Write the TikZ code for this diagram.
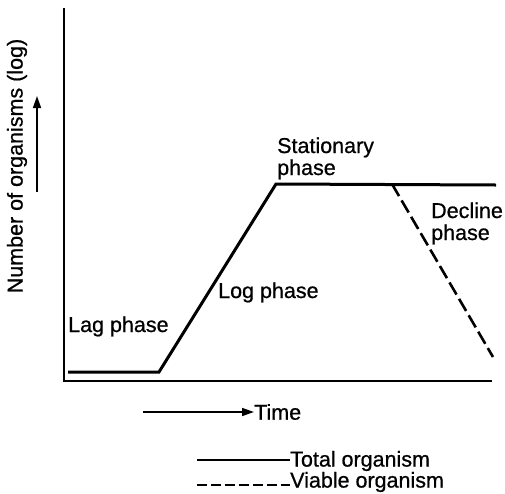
\documentclass[tikz,border=0pt]{standalone}
\usepackage{fontspec}
\setmainfont{Liberation Sans}[RawFeature={embolden=0.7}]
\usetikzlibrary{arrows.meta}
\begin{document}
\begin{tikzpicture}[x=1pt,y=-1pt,
  txt/.style={font=\fontsize{21.5}{22}\selectfont, inner sep=0pt},
  lbl/.style={txt, anchor=base west, align=left},
  axisline/.style={line width=2pt},
  curve/.style={line width=3pt, line join=miter},
  viable/.style={line width=2.6pt, dash pattern=on 14pt off 5pt},
  pointer/.style={line width=1.6pt, -{Triangle[length=12pt,width=8pt]}}]
\useasboundingbox (0,0) rectangle (505,493);
% axes
\coordinate (top) at (64,8);
\coordinate (orig) at (64,381);
\coordinate (xend) at (492,381);
\draw[axisline] (top) -- (orig) -- (xend);
% growth curve
\coordinate (lag0) at (68,372);
\coordinate (lag1) at (159,372);
\coordinate (stat0) at (276,184);
\coordinate (dec0) at (392,184);
\coordinate (stat1) at (496,185);
\coordinate (dec1) at (493,357);
\draw[curve] (lag0) -- (lag1) -- (stat0) -- (stat1);
\draw[viable] (dec0) -- (dec1);
% labels (base anchor = baseline of last line)
\node[lbl] (stat) at (277,175) {Stationary\\phase};
\node[lbl] (decl) at (431,240) {Decline\\phase};
\node[lbl] (logp) at (218,298) {Log phase};
\node[lbl] (lagp) at (68,332) {Lag phase};
% y label
\node[txt, rotate=90] (ylab) at (17,166) {Number of organisms (log)};
\coordinate (ya0) at (37,192);
\coordinate (ya1) at (37,96);
\draw[pointer] (ya0) -- (ya1);
% time
\coordinate (ta0) at (143,412);
\node[lbl, anchor=west] (time) at (254,412) {Time};
\draw[pointer] (ta0) -- (time.west);
% legend
\coordinate (l1a) at (197,460);
\node[lbl, anchor=west] (tot) at (290,461) {Total organism};
\draw[curve, line width=2.4pt] (l1a) -- (tot.west |- l1a);
\coordinate (l2a) at (197,485);
\coordinate (l2b) at (290,485);
\node[lbl, anchor=west] (via) at (290,482) {Viable organism};
\draw[viable, line width=2.2pt, dash pattern=on 10pt off 4pt] (l2a) -- (l2b);
\end{tikzpicture}
\end{document}
